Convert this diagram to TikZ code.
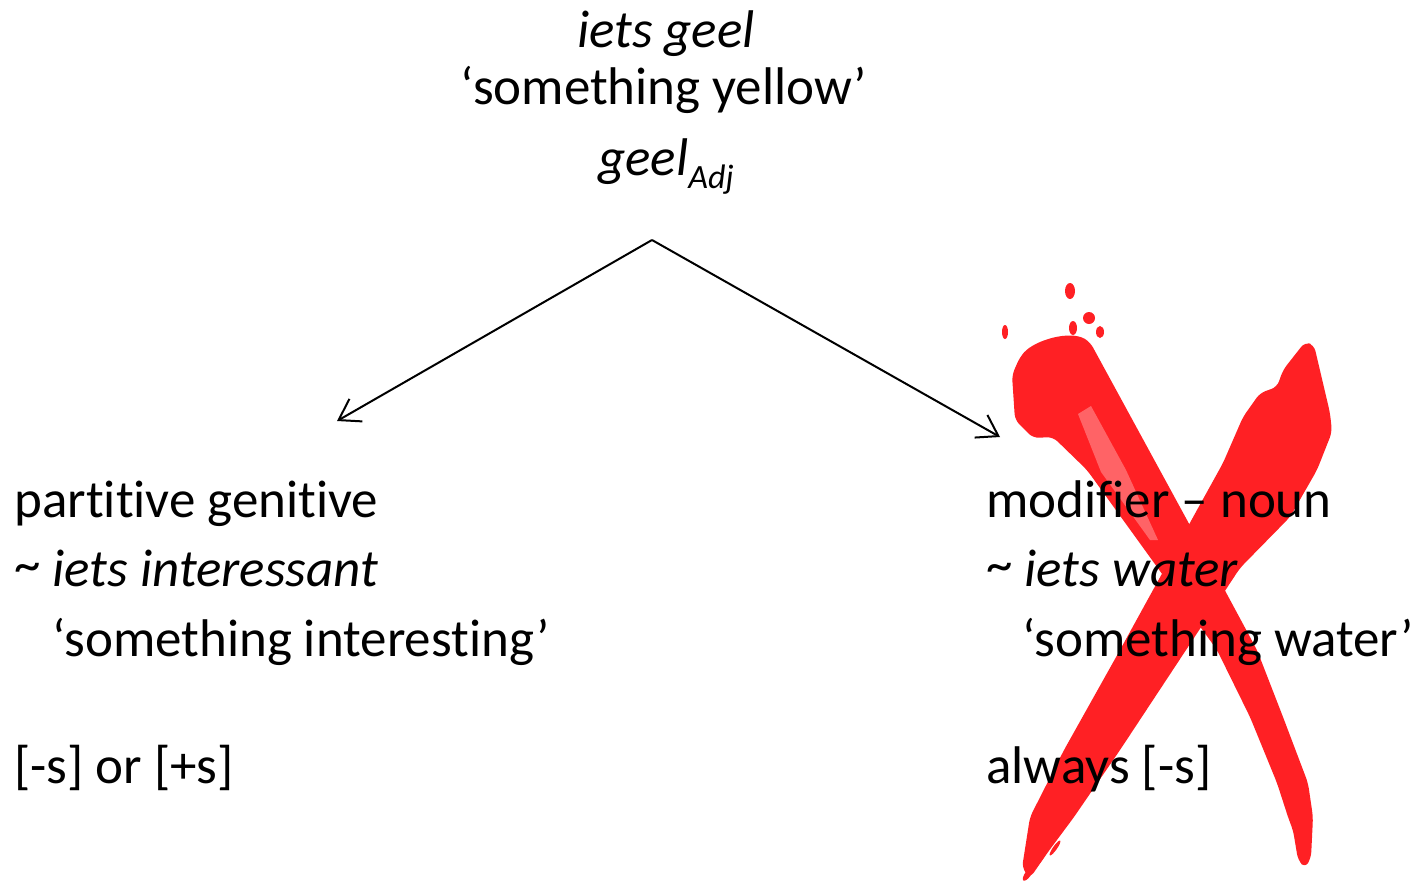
\documentclass[tikz,border=0pt]{standalone}
\usepackage{fontspec}
\setmainfont{Carlito}[Ligatures={NoCommon,NoContextual}, Contextuals=NoAlternate]
\usetikzlibrary{arrows.meta}
\definecolor{kruisrood}{RGB}{255,32,36}
\begin{document}
\begin{tikzpicture}[x=0.5pt,y=-0.5pt]
			\tikzset{tekst/.style={inner sep=0pt, font=\fontsize{26.5}{32}\selectfont},
				links/.style={tekst, anchor=base west},
				midden/.style={tekst, anchor=base},
				pijl/.style={line width=1pt, -{Straight Barb[length=10pt,width=13pt,line width=1pt]}},
				verf/.style={fill=kruisrood, draw=none, rounded corners=3pt}}
			\useasboundingbox (0,0) rectangle (1424,884);

			\fill[verf] (1020,357) .. controls (1035,340) and (1070,330) .. (1090,342) -- (1187,520) -- (1257,650) -- (1283,717) -- (1308,783) -- (1313,817) -- (1311,858) -- (1305,868) -- (1298,860) -- (1293,830) -- (1289,820) -- (1277,783) -- (1250,717) -- (1217,650) -- (1087,470) -- (1053,437) -- (1033,438) -- (1015,420) -- (1012,375) -- cycle;
			\fill[verf] (1305,342) -- (1314,345) -- (1330,413) -- (1332,432) -- (1317,470) -- (1290,517) -- (1240,568) -- (1186,650) -- (1120,750) -- (1074,817) -- (1048,852) -- (1030,878) -- (1022,868) -- (1030,817) -- (1064,750) -- (1120,650) -- (1197,510) -- (1223,463) -- (1243,417) -- (1260,393) -- (1277,387) -- (1283,370) -- cycle;
			\fill[white, opacity=0.3] (1078,414) -- (1091,406) -- (1126,470) -- (1158,540) -- (1150,540) -- (1101,472) -- cycle;
			\fill[kruisrood] (1070,291) ellipse (5 and 8);
			\fill[kruisrood] (1005,332) ellipse (3 and 7);
			\fill[kruisrood] (1089,318) ellipse (6 and 6);
			\fill[kruisrood] (1100,332) ellipse (4 and 6);
			\fill[kruisrood] (1073,328) ellipse (4 and 7);
			\fill[kruisrood, rotate around={-35:(1040,858)}] (1040,858) ellipse (3 and 12);
			\fill[kruisrood, rotate around={-35:(1055,848)}] (1055,848) ellipse (2 and 9);
			\fill[kruisrood, rotate around={-35:(1028,874)}] (1028,874) ellipse (3 and 8);

			\node[midden] at (666,47) (vorm) {\itshape iets geel};
			\node[midden] at (664,104) (glos) {‘something yellow’};
			\node[midden] at (666,175) (adj) {\itshape geel\raisebox{-6.5pt}{\fontsize{17}{17}\selectfont Adj}};

			\coordinate (top) at (652,240);
			\coordinate (lpunt) at (337,421);
			\coordinate (rpunt) at (1000,437);
			\draw[pijl] (top) -- (lpunt);
			\draw[pijl] (top) -- (rpunt);

			\node[links] at (14,517) (l1) {partitive genitive};
			\node[links] at (14,586) (l2) {\raisebox{2pt}{\textasciitilde} \itshape iets interessant};
			\node[links] at (52,656) (l3) {‘something interesting’};
			\node[links] at (14,783) (l4) {[-s] or [+s]};

			\node[links] at (986,517) (r1) {modifier – noun};
			\node[links] at (986,586) (r2) {\raisebox{2pt}{\textasciitilde} \itshape iets water};
			\node[links] at (1022,656) (r3) {‘something water’};
			\node[links] at (986,783) (r4) {always [-s]};
		\end{tikzpicture}
\end{document}
